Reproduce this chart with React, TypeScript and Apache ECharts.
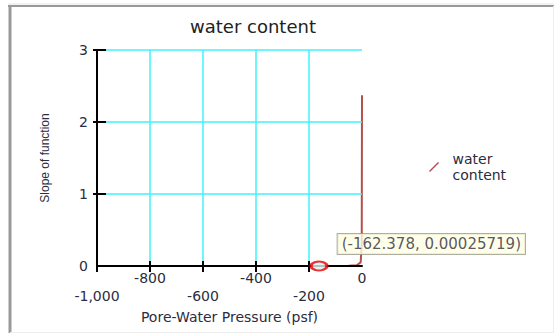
import React, { useEffect, useRef } from "react";
import * as echarts from "echarts";

const chartTitle = "water content";
const xAxisName = "Pore-Water Pressure (psf)";
const yAxisName = "Slope of function";
const seriesName = "water content";
// [pore-water pressure, slope]
const curveX = [-1000, -800, -600, -400, -300, -162.378, -100, -50, -20, -5, -1, 0];
const curveY = [0.0000012, 0.000002, 0.000005, 0.00002, 0.00006, 0.00025719, 0.0006, 0.002, 0.01, 0.05, 0.3, 2.37];
const selectedPoint = [-162.378, 0.00025719];
const xTicks = [-1000, -800, -600, -400, -200];
const yTicks = [1, 2, 3];

const FONT = "DejaVu Sans";
const TEXT = "#2c2c40";

export default function App() {
  const ref = useRef<HTMLDivElement>(null);
  useEffect(() => {
    const chart = echarts.init(ref.current!, undefined, { renderer: "svg" });
    const fmt = (v: number) => {
      const s = Math.abs(v).toLocaleString("en-US");
      const t = (v < 0 ? "-" : "") + s;
      return Math.round(v / 200) % 2 === 0 ? t : "\n" + t;
    };
    const gridBox = { left: 97, right: 192, top: 50, bottom: 67 };
    chart.setOption({
      animation: false,
      backgroundColor: "#ffffff",
      title: {
        text: chartTitle,
        left: 248,
        top: 12,
        textAlign: "center",
        textStyle: { fontFamily: FONT, fontSize: 18, fontWeight: "normal", color: "#222" },
      },
      legend: {
        data: [seriesName],
        orient: "vertical",
        left: 424,
        top: 146,
        itemWidth: 11,
        itemHeight: 10,
        icon: "path://M0,9 L9,0 L10,1 L1,10 Z",
        formatter: () => "water\ncontent",
        textStyle: { fontFamily: FONT, fontSize: 14, color: TEXT, lineHeight: 16, padding: [0, 0, 0, 8] },
      },
      grid: [gridBox, gridBox],
      xAxis: [
        {
          type: "value",
          gridIndex: 0,
          min: -1000,
          max: 0,
          interval: 200,
          name: xAxisName,
          nameLocation: "middle",
          nameGap: 40,
          nameTextStyle: { fontFamily: FONT, fontSize: 14, color: TEXT },
          z: 5,
          axisLine: { onZero: false, lineStyle: { color: "#000", width: 2 } },
          axisTick: { customValues: xTicks, length: 6, lineStyle: { color: "#000", width: 2 } },
          axisLabel: {
            formatter: fmt,
            fontFamily: FONT,
            fontSize: 14,
            color: TEXT,
            lineHeight: 18,
            margin: 3,
            verticalAlign: "top",
          },
          splitLine: { show: true, lineStyle: { color: "#3ff2fa", width: 1.5 } },
        },
        {
          type: "value",
          gridIndex: 1,
          min: -1000,
          max: 0,
          interval: 200,
          position: "bottom",
          z: 5,
          axisLine: { show: false, onZero: false },
          axisTick: { customValues: xTicks, inside: true, length: 5, lineStyle: { color: "#000", width: 2 } },
          axisLabel: { show: false },
          splitLine: { show: false },
        },
      ],
      yAxis: [
        {
          type: "value",
          gridIndex: 0,
          min: 0,
          max: 3,
          interval: 1,
          name: yAxisName,
          nameLocation: "middle",
          nameGap: 46,
          nameTextStyle: { fontFamily: "Liberation Sans Narrow, Liberation Sans", fontSize: 12, color: TEXT },
          z: 5,
          axisLine: { onZero: false, lineStyle: { color: "#000", width: 2 } },
          axisTick: { customValues: yTicks, length: 4, lineStyle: { color: "#000", width: 2 } },
          axisLabel: { fontFamily: FONT, fontSize: 14, color: TEXT, margin: 9 },
          splitLine: { show: true, lineStyle: { color: "#3ff2fa", width: 1.5 } },
        },
        {
          type: "value",
          gridIndex: 1,
          min: 0,
          max: 3,
          interval: 1,
          position: "left",
          z: 5,
          axisLine: { show: false, onZero: false },
          axisTick: { customValues: yTicks, inside: true, length: 9, lineStyle: { color: "#000", width: 2 } },
          axisLabel: { show: false },
          splitLine: { show: false },
        },
      ],
      series: [
        {
          name: seriesName,
          type: "line",
          xAxisIndex: 0,
          yAxisIndex: 0,
          data: curveX.map((x, i) => [x, curveY[i]]),
          showSymbol: false,
          z: 2,
          lineStyle: { color: "#b4504c", width: 2 },
          itemStyle: { color: "#b4504c" },
        },
        {
          name: "selected",
          type: "scatter",
          xAxisIndex: 0,
          yAxisIndex: 0,
          data: [selectedPoint],
          symbol: "circle",
          symbolSize: [16, 9],
          z: 10,
          itemStyle: { color: "#dff0f0", borderColor: "#e80000", borderWidth: 2.5 },
          label: {
            show: true,
            position: "right",
            distance: 5,
            offset: [4, -22],
            formatter: () => `(${selectedPoint[0]}, ${selectedPoint[1]})`,
            fontFamily: FONT,
            fontSize: 15,
            color: TEXT,
            backgroundColor: "#ffffe4",
            borderColor: "#9a9a8a",
            borderWidth: 1,
            padding: [3, 4, 2, 4],
          },
        },
      ],
      graphic: [
        { type: "line", shape: { x1: 10, y1: 5, x2: 10, y2: 333 }, style: { stroke: "#9a9a9a", lineWidth: 3 } },
        { type: "line", shape: { x1: 8, y1: 6, x2: 554, y2: 6 }, style: { stroke: "#9a9a9a", lineWidth: 2 } },
        { type: "line", shape: { x1: 8, y1: 4, x2: 554, y2: 4 }, style: { stroke: "#e6e6e6", lineWidth: 1 } },
        { type: "line", shape: { x1: 553.5, y1: 6, x2: 553.5, y2: 333 }, style: { stroke: "#eeeeee", lineWidth: 1 } },
        { type: "line", shape: { x1: 10, y1: 332.5, x2: 554, y2: 332.5 }, style: { stroke: "#eeeeee", lineWidth: 1 } },
      ],
    });
    return () => chart.dispose();
  }, []);
  return (
    <div
      ref={ref}
      style={{ width: 554, height: 333, position: "fixed", left: 0, top: 0, background: "#fff" }}
    />
  );
}
